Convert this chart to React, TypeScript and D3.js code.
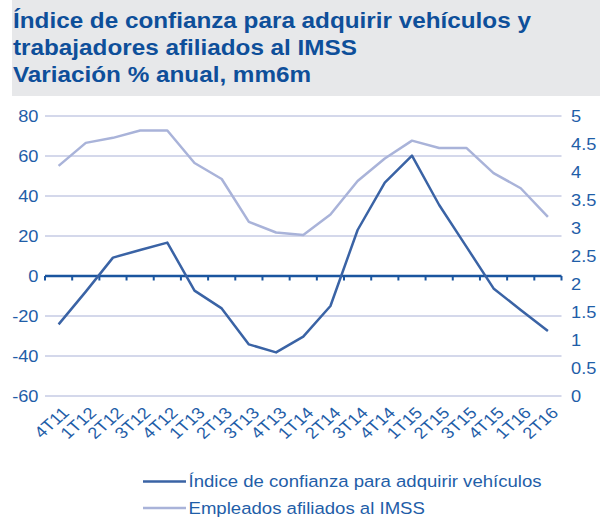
import React from "react";
import * as d3 from "d3";

const categories = ["4T11","1T12","2T12","3T12","4T12","1T13","2T13","3T13","4T13","1T14","2T14","3T14","4T14","1T15","2T15","3T15","4T15","1T16","2T16"];
const indiceConfianza = [-24.2,-7.8,9.2,13,16.7,-7.3,-16.2,-34.2,-38.2,-30.3,-15,23,46.7,60.2,35.5,14.7,-6.2,-17,-27.5];
const empleadosIMSS = [4.11,4.52,4.61,4.74,4.74,4.16,3.875,3.11,2.92,2.875,3.24,3.84,4.24,4.56,4.43,4.43,3.98,3.71,3.2];
const leftTicks = [80,60,40,20,0,-20,-40,-60];
const rightTicks = [5,4.5,4,3.5,3,2.5,2,1.5,1,0.5,0];
const titleLines = ["Índice de confianza para adquirir vehículos y","trabajadores afiliados al IMSS","Variación % anual, mm6m"];
const legendLabels = ["Índice de confianza para adquirir vehículos","Empleados afiliados al IMSS"];

const W = 605, H = 521;
const C1 = "#3a63a5";
const C2 = "#a9b3d9";
const TXT = "#1f5ea8";
const GRID = "#c6cbe5";
const FONT = "'Liberation Sans', Arial, sans-serif";
const SX = 1.14;

export default function App() {
  const x = d3.scaleBand<string>().domain(categories).range([45, 561.5]);
  const yL = d3.scaleLinear().domain([-60, 80]).range([396, 116]);
  const yR = d3.scaleLinear().domain([0, 5]).range([396, 116]);
  const cx = (c: string) => (x(c) as number) + x.bandwidth() / 2;
  const line1 = d3.line<number>().x((_, i) => cx(categories[i])).y((d) => yL(d));
  const line2 = d3.line<number>().x((_, i) => cx(categories[i])).y((d) => yR(d));
  const y0 = yL(0);
  const boundaries = categories.map((c) => x(c) as number).concat([x.range()[1]]);

  return (
    <svg width={W} height={H} style={{ position: "absolute", left: 0, top: 0 }} fontFamily={FONT}>
      <rect x={0} y={0} width={W} height={H} fill="#fff" />
      <rect x={12} y={0} width={588} height={96} fill="#e7e8ea" />
      {titleLines.map((t, i) => (
        <text key={i} transform={`translate(13,${28 + i * 27}) scale(${SX},1)`} fontSize={21.3} fontWeight="bold" fill="#0e4f9a">{t}</text>
      ))}
      {leftTicks.filter((t) => t !== 0).map((t) => (
        <line key={t} x1={45} x2={561.5} y1={yL(t)} y2={yL(t)} stroke={GRID} strokeWidth={1.5} />
      ))}
      {leftTicks.map((t) => (
        <text key={t} transform={`translate(38.5,${yL(t)}) scale(${SX},1)`} dy="0.36em" textAnchor="end" fontSize={16} fill={TXT}>{t}</text>
      ))}
      {rightTicks.map((t) => (
        <text key={t} transform={`translate(571,${yR(t)}) scale(${SX},1)`} dy="0.36em" textAnchor="start" fontSize={16} fill={TXT}>{t}</text>
      ))}
      <path d={line2(empleadosIMSS) as string} fill="none" stroke={C2} strokeWidth={2.5} strokeLinejoin="round" />
      <line x1={45} x2={561.5} y1={y0} y2={y0} stroke="#1a559f" strokeWidth={2.5} />
      {boundaries.map((b, i) => (
        <line key={i} x1={b} x2={b} y1={y0} y2={y0 + 4.5} stroke="#1a559f" strokeWidth={2} />
      ))}
      <path d={line1(indiceConfianza) as string} fill="none" stroke={C1} strokeWidth={2.5} strokeLinejoin="round" />
      {categories.map((c) => (
        <text key={c} transform={`translate(${cx(c) + 7},${410}) scale(${SX},1) rotate(-45)`} textAnchor="end" dy="0.35em" fontSize={16} fill={TXT}>{c}</text>
      ))}
      {legendLabels.map((l, i) => (
        <g key={l} transform={`translate(0,${481.5 + i * 26.5})`}>
          <line x1={143} x2={186} y1={0} y2={0} stroke={i === 0 ? C1 : C2} strokeWidth={2.5} />
          <text transform={`translate(188.5,0) scale(${SX},1)`} dy="0.36em" fontSize={16.3} fill={TXT}>{l}</text>
        </g>
      ))}
    </svg>
  );
}
